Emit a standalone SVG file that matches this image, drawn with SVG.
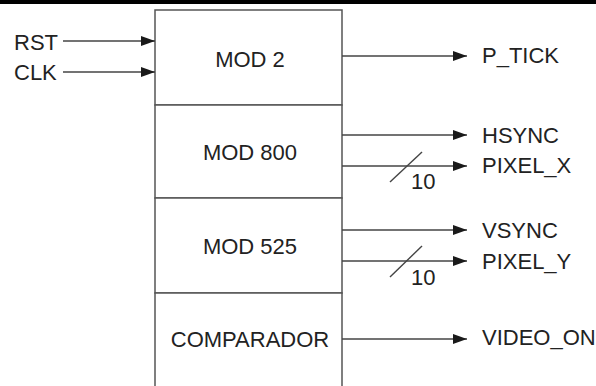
<svg xmlns="http://www.w3.org/2000/svg" width="596" height="386" viewBox="0 0 596 386">
<defs>
<marker id="ah" markerWidth="14" markerHeight="10" refX="14" refY="5" orient="auto" markerUnits="userSpaceOnUse">
<path d="M0,0 L14,5 L0,10 Z" fill="#1a1a1a"/>
</marker>
<style>
.t{font-family:"Liberation Sans",Arial,sans-serif;font-size:22px;fill:#222}
.b{fill:#fff;stroke:#555;stroke-width:1.5}
.c{stroke:#444;stroke-width:1.4;fill:none}
.a{marker-end:url(#ah)}
</style>
</defs>
<rect x="0" y="0" width="596" height="386" fill="#fff"/>
<rect x="0" y="0" width="596" height="4" fill="#000"/>
<g id="mod2"><rect class="b" x="155" y="10" width="187" height="95"/><text class="t" x="250" y="67" text-anchor="middle">MOD 2</text></g>
<g id="mod800"><rect class="b" x="155" y="105" width="187" height="93"/><text class="t" x="250" y="160" text-anchor="middle">MOD 800</text></g>
<g id="mod525"><rect class="b" x="155" y="198" width="187" height="95"/><text class="t" x="250" y="254" text-anchor="middle">MOD 525</text></g>
<g id="comparador"><rect class="b" x="155" y="293" width="187" height="100"/><text class="t" x="250" y="347" text-anchor="middle">COMPARADOR</text></g>
<g id="labels">
<text class="t" x="14" y="50">RST</text>
<text class="t" x="14" y="80">CLK</text>
<text class="t" x="482" y="63">P_TICK</text>
<text class="t" x="482" y="143">HSYNC</text>
<text class="t" x="482" y="173">PIXEL_X</text>
<text class="t" x="482" y="238">VSYNC</text>
<text class="t" x="482" y="269">PIXEL_Y</text>
<text class="t" x="482" y="345">VIDEO_ON</text>
<text class="t" x="411" y="189">10</text>
<text class="t" x="411" y="285">10</text>
</g>
<g id="connectors">
<line class="c a" x1="63" y1="41" x2="155" y2="41"/>
<line class="c a" x1="63" y1="72" x2="155" y2="72"/>
<line class="c a" x1="342" y1="56" x2="467" y2="56"/>
<line class="c a" x1="342" y1="135" x2="467" y2="135"/>
<line class="c a" x1="342" y1="166" x2="467" y2="166"/>
<line class="c a" x1="342" y1="230" x2="467" y2="230"/>
<line class="c a" x1="342" y1="261" x2="467" y2="261"/>
<line class="c a" x1="342" y1="339" x2="467" y2="339"/>
<line class="c" x1="390" y1="182" x2="422" y2="152"/>
<line class="c" x1="390" y1="277" x2="422" y2="246"/>
</g>
</svg>
